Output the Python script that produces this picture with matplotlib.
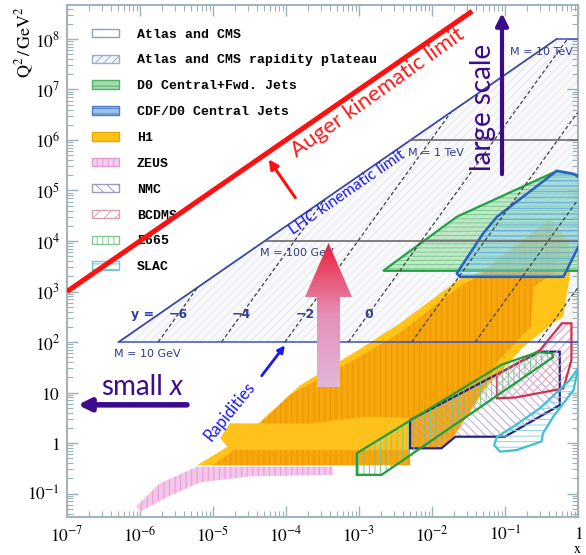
import numpy as np
import matplotlib
matplotlib.use('Agg')
import matplotlib.pyplot as plt
from matplotlib.patches import Polygon, Patch
from matplotlib.colors import LinearSegmentedColormap
from matplotlib.ticker import LogLocator, FuncFormatter

plt.rcParams['mathtext.fontset'] = 'stix'
plt.rcParams['hatch.linewidth'] = 0.7

# ---- data ----
SQRT_S_LHC = 14000.0          # GeV
S_LHC = SQRT_S_LHC ** 2
S_AUGER = 1e10                # GeV^2, Auger limit Q2 = x * s
auger_x = [1e-7, 10 ** -1.45]
mass_q2 = [1e2, 1e4, 1e6, 1e8]               # M = 10 GeV, 100 GeV, 1 TeV, 10 TeV
mass_labels = ['M = 10 GeV', 'M = 100 GeV', 'M = 1 TeV', 'M = 10 TeV']
mass_label_pos = [(1.25e-6, 58), (1.41e-4, 5.8e3), (1.14e-2, 5.5e5), (0.32, 5.5e7)]
rapidities = [-6, -4, -2, 0, 2, 4, 6]
rap_labels = {-6: '\u22126', -4: '\u22124', -2: '\u22122', 0: '0', 6: '6'}
rap_label_q2 = 10 ** 2.55

h1_outer = [(-5.22, -0.44), (-4.6, 0.1), (-3.8, 1.15), (-3.0, 1.85), (-2.44, 2.37),
            (-1.62, 3.25), (-1.34, 3.38), (-0.38, 4.45), (-0.11, 3.95), (-0.11, 3.3),
            (-0.16, 2.9), (-0.20, 2.5), (-0.34, 2.38), (-0.75, 1.9), (-1.25, 1.11),
            (-1.69, 0.16), (-1.85, -0.10), (-2.30, -0.10), (-2.30, -0.44)]
h1_inner = [(-5.0, -0.44), (-4.77, -0.2), (-3.95, 0.95), (-3.0, 1.7), (-2.44, 2.18),
            (-1.62, 3.1), (-1.34, 3.32), (-0.42, 4.35), (-0.22, 3.95), (-0.3, 3.4),
            (-0.6, 3.1), (-0.65, 2.3), (-1.11, 1.6), (-1.3, 1.05), (-1.69, 0.16),
            (-1.85, -0.10), (-2.30, -0.10), (-2.30, -0.44)]
h1_band = [(-4.9, 0.1), (-4.77, -0.14), (-2.30, -0.14), (-2.30, 0.5), (-2.9, 0.52),
           (-3.67, 0.39), (-4.77, 0.39)]
zeus = [(-6.05, -1.25), (-5.73, -0.80), (-5.22, -0.47), (-3.36, -0.47), (-3.36, -0.63),
        (-4.5, -0.66), (-5.18, -0.78), (-5.6, -1.05), (-6.0, -1.36)]
d0_jets = [(-2.67, 3.41), (-1.66, 4.48), (-0.30, 5.38), (0.02, 5.3), (0.02, 3.41)]
cdf_jets = [(-1.62, 3.29), (-1.66, 3.36), (-1.30, 4.15), (-1.11, 4.48), (-0.29, 5.39),
            (-0.06, 5.33), (0.03, 5.24), (0.05, 4.02), (-0.20, 3.29)]
e665 = [(-3.03, -0.20), (-1.05, 1.55), (-0.55, 1.80), (-0.36, 1.78), (-0.34, 1.70),
        (-2.69, -0.63), (-3.03, -0.63)]
nmc = [(-2.30, 0.455), (-2.30, -0.105), (-1.87, -0.105), (-1.68, 0.125), (-1.00, 0.125),
       (-0.25, 0.75), (-0.25, 1.81), (-0.52, 1.81)]
bcdms = [(-0.22, 2.37), (-0.09, 2.37), (-0.09, 1.64), (-0.20, 1.08), (-0.86, 0.90),
         (-1.11, 0.885), (-1.11, 1.35), (-0.52, 1.84)]
slac = [(0.0, 1.48), (-0.06, 1.05), (-0.34, 0.52), (-0.48, 0.19), (-0.50, 0.03),
        (-0.84, -0.14), (-1.07, -0.17), (-1.15, -0.04), (-1.11, 0.12), (-0.89, 0.32),
        (-0.52, 0.69), (-0.11, 1.25)]

legend_names = ['Atlas and CMS', 'Atlas and CMS rapidity plateau', 'D0 Central+Fwd. Jets',
                'CDF/D0 Central Jets', 'H1', 'ZEUS', 'NMC', 'BCDMS', 'E665', 'SLAC']


def dpoly(pts):
    return 10 ** np.array(pts, dtype=float)


fig = plt.figure(figsize=(5.86, 5.55), dpi=100)
ax = fig.add_axes([67 / 586, 38 / 555, 511 / 586, 512 / 555])
ax.set_xscale('log')
ax.set_yscale('log')
ax.set_xlim(1e-7, 1)
ax.set_ylim(10 ** -1.465, 10 ** 8.673)


def region(pts, face, hatch_col, hatch, edge, z, alpha=1.0, lw=1.6):
    if face is not None:
        ax.add_patch(Polygon(dpoly(pts), closed=True, facecolor=face, edgecolor='none',
                             alpha=alpha, zorder=z))
    if hatch:
        ax.add_patch(Polygon(dpoly(pts), closed=True, facecolor='none', edgecolor=hatch_col,
                             hatch=hatch, linewidth=0, zorder=z + 0.1))
    if edge:
        ax.add_patch(Polygon(dpoly(pts), closed=True, facecolor='none', edgecolor=edge,
                             linewidth=lw, zorder=z + 0.2))


# LHC kinematic region
lhc = [(mass_q2[0] / S_LHC, mass_q2[0]), (mass_q2[-1] / S_LHC, mass_q2[-1]),
       (1, mass_q2[-1]), (1, mass_q2[0])]
ax.add_patch(Polygon(lhc, closed=True, facecolor='#fafafc', edgecolor='#e4e6ee',
                     hatch='////', linewidth=0, zorder=1))
ax.plot([lhc[0][0], lhc[1][0]], [lhc[0][1], lhc[1][1]], color='#3a48a0', lw=1.3, zorder=8)
for i, q in enumerate(mass_q2):
    col = '#3a50c0' if i in (0, 3) else '#606060'
    ax.plot([q / S_LHC, 1], [q, q], color=col, lw=1.1, zorder=8)

q = np.logspace(2, 8, 400)
for yr in rapidities:
    xr = np.sqrt(q) / SQRT_S_LHC * np.exp(yr)
    ok = (xr >= q / S_LHC) & (xr <= 1)
    ax.plot(xr[ok], q[ok], color='#404040', lw=0.9, ls=(0, (3, 2)), zorder=8)
    if yr in rap_labels:
        xl = np.sqrt(rap_label_q2) / SQRT_S_LHC * np.exp(yr)
        ax.text(xl, rap_label_q2, rap_labels[yr], color='#3040a0', fontsize=9,
                fontweight='bold', ha='center', va='center', zorder=2)
ax.text(1.1e-6, rap_label_q2, 'y =', color='#3040a0', fontsize=9, fontweight='bold',
        ha='center', va='center', zorder=2)
for lab, (xt, yt) in zip(mass_labels, mass_label_pos):
    ax.text(xt, yt, lab, color='#2c3a90', fontsize=8, ha='center', va='center', zorder=9)

# experiments
region(zeus, '#f3c6ea', '#e49ad6', '|||', None, 3)
region(h1_outer, '#ffc417', None, None, None, 3)
region(h1_inner, '#f7a70c', '#ec9400', '|||', None, 3.3)
region(h1_band, '#ffc21c', None, None, None, 3.6)
region(d0_jets, '#9cdcaa', '#7ccc8c', '----', '#22a046', 4, alpha=0.6)
region(cdf_jets, '#8ccfee', '#62acdc', '---', '#2860c0', 4.5, alpha=0.45, lw=1.8)
region(nmc, None, '#b8a8d8', '\\\\\\\\', '#23238a', 5)
region(bcdms, None, '#e6a0b4', '////', '#d03050', 5.4)
region(e665, None, '#78c890', '|||', '#1e9e3c', 5.8)
region(slac, None, '#8cd4e0', '---', '#3cc0d8', 6.2)

# Auger line
ax.plot(auger_x, [x * S_AUGER for x in auger_x], color='#ff1010', lw=3.6,
        solid_capstyle='butt', zorder=12)

# annotations
ax.text(1.82e-3, 8.5e6, 'Auger kinematic limit', color='#ff1818', fontsize=16,
        family='Lato', rotation=35.5, ha='center', va='center', zorder=12)
ax.annotate('', xy=(5.5e-5, 4.6e5), xytext=(1.41e-4, 6.5e4),
            arrowprops=dict(arrowstyle='-|>', color='#ff1010', lw=2.2, mutation_scale=14),
            zorder=12)
ax.text(6.9e-4, 8.9e4, 'LHC kinematic limit', color='#1a1aee', fontsize=11.5, family='Lato',
        rotation=34.7, ha='center', va='center', zorder=9)
ax.text(0.050, 4.5e6, 'large scale', color='#3c0a8c', fontsize=20, family='Lato',
        rotation=90, ha='center', va='center', zorder=9)
ax.annotate('', xy=(0.091, 3.7e8), xytext=(0.091, 1.85e5),
            arrowprops=dict(arrowstyle='-|>', color='#3c0a8c', lw=3, mutation_scale=18),
            zorder=9)
ax.text(2.07e-6, 8.9, 'small', color='#3c0a8c', fontsize=20, family='Lato',
        ha='right', va='baseline', zorder=9)
ax.text(2.58e-6, 8.9, 'x', color='#3c0a8c', fontsize=20, family='Lato', style='italic',
        ha='left', va='baseline', zorder=9)
ax.annotate('', xy=(1.29e-7, 5.7), xytext=(4.8e-6, 5.7),
            arrowprops=dict(arrowstyle='-|>', color='#3c0a8c', lw=4, mutation_scale=18),
            zorder=9)
ax.text(1.7e-5, 4.3, 'Rapidities', color='#1a1aee', fontsize=12, family='Lato',
        rotation=51, ha='center', va='center', zorder=9)
ax.annotate('', xy=(1.02e-4, 95), xytext=(4.4e-5, 19.4),
            arrowprops=dict(arrowstyle='-|>', color='#1a1aee', lw=2, mutation_scale=10),
            zorder=9)

# legend
leg_handles = [
    Patch(facecolor='white', edgecolor='#8ea0b8'),
    Patch(facecolor='#f6f6fa', edgecolor='#9aaccc', hatch='////'),
    Patch(facecolor='#a4dcb0', edgecolor='#50b068', hatch='---'),
    Patch(facecolor='#9cc4ec', edgecolor='#4c7cc8', hatch='---'),
    Patch(facecolor='#ffc417', edgecolor='#e8a800'),
    Patch(facecolor='#f3d0ee', edgecolor='#e09ad4', hatch='|||'),
    Patch(facecolor='white', edgecolor='#9a9ac0', hatch='\\\\\\'),
    Patch(facecolor='white', edgecolor='#d8a0a8', hatch='///'),
    Patch(facecolor='white', edgecolor='#80c890', hatch='|||'),
    Patch(facecolor='white', edgecolor='#70c8d0', hatch='---'),
]
leg = ax.legend(leg_handles, legend_names, loc='upper left', bbox_to_anchor=(0.049, 0.954),
                frameon=False, borderpad=0, borderaxespad=0,
                prop=dict(family='Liberation Mono', weight='bold', size=9.5),
                handlelength=2.05, handleheight=0.6, handletextpad=1.35, labelspacing=1.05)
leg.set_zorder(7)

# axes styling
def fmt(v, pos):
    e = int(round(np.log10(v)))
    if e == 0:
        return '$1$'
    if e == 1:
        return '$10$'
    return '$10^{%d}$' % e

for axis in (ax.xaxis, ax.yaxis):
    axis.set_major_locator(LogLocator(base=10, numticks=30))
    axis.set_minor_locator(LogLocator(base=10, subs=np.arange(2, 10) * 1.0, numticks=200))
    axis.set_major_formatter(FuncFormatter(fmt))
ax.tick_params(which='both', direction='in', top=True, right=True, color='#9cb0b8')
ax.tick_params(which='major', length=8, width=1, labelsize=12.5)
ax.tick_params(which='minor', length=4, width=0.8)
ax.tick_params(axis='x', pad=6)
ax.tick_params(axis='y', pad=5)
for sp in ax.spines.values():
    sp.set_color('#a4b4bc')
    sp.set_linewidth(1.5)

fig.text(25 / 586, 1 - 42 / 555, r'$\mathrm{Q^2\,/\,GeV^2}$', rotation=90, fontsize=13,
         ha='center', va='center')
fig.text(577 / 586, 1 - 549 / 555, r'$\mathrm{x}$', fontsize=10, ha='center', va='center')

# big gradient arrow
arr_ax = fig.add_axes([305 / 586, (555 - 387) / 555, 47 / 586, 144 / 555])
arr_ax.set_xlim(0, 1)
arr_ax.set_ylim(0, 1)
arr_ax.axis('off')
grad = np.linspace(0, 1, 256).reshape(-1, 1)
cmap = LinearSegmentedColormap.from_list('arr', ['#e2b6da', '#e690b8', '#e8203c'])
im = arr_ax.imshow(grad, cmap=cmap, origin='lower', extent=[0, 1, 0, 1], aspect='auto')
shape = Polygon([(0.255, 0), (0.745, 0), (0.745, 0.625), (1, 0.625), (0.5, 1),
                 (0, 0.625), (0.255, 0.625)], closed=True, facecolor='none',
                edgecolor='none', transform=arr_ax.transData)
arr_ax.add_patch(shape)
im.set_clip_path(shape)

fig.savefig('out.png', dpi=100, facecolor='white')
